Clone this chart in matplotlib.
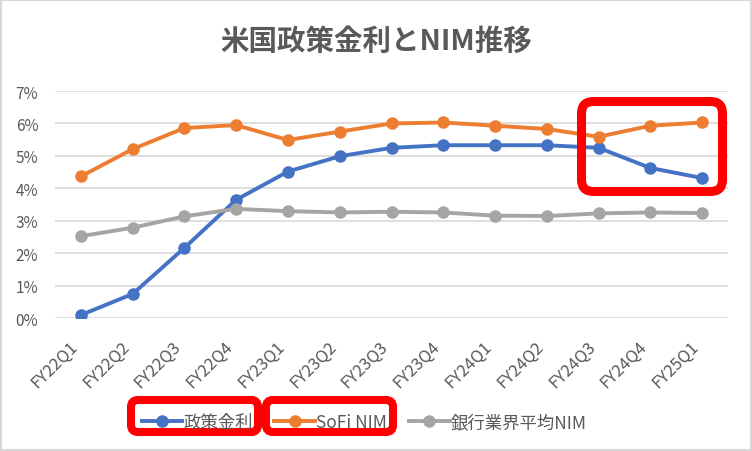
import matplotlib
matplotlib.use("Agg")
import matplotlib.pyplot as plt
from matplotlib.patches import FancyBboxPatch, Rectangle
from matplotlib.ticker import PercentFormatter

plt.rcParams['font.family'] = ['Noto Sans CJK JP', 'DejaVu Sans']

quarters = ["FY22Q1", "FY22Q2", "FY22Q3", "FY22Q4", "FY23Q1", "FY23Q2", "FY23Q3",
            "FY23Q4", "FY24Q1", "FY24Q2", "FY24Q3", "FY24Q4", "FY25Q1"]
policy_rate = [0.10, 0.75, 2.17, 3.65, 4.52, 4.99, 5.25, 5.33, 5.33, 5.33, 5.25, 4.63, 4.32]
sofi_nim = [4.37, 5.21, 5.86, 5.95, 5.49, 5.75, 6.00, 6.03, 5.93, 5.83, 5.59, 5.93, 6.03]
bank_avg_nim = [2.53, 2.79, 3.14, 3.37, 3.30, 3.26, 3.28, 3.26, 3.16, 3.15, 3.23, 3.26, 3.24]

W, H = 752, 452
gray_text = '#595959'

fig = plt.figure(figsize=(W / 100, H / 100), dpi=100)
ax = fig.add_axes([55 / W, 1 - 319.3 / H, (728 - 55) / W, (319.3 - 92) / H])

x = list(range(len(quarters)))
ax.plot(x, policy_rate, color='#4472C4', marker='o', linewidth=2.8, markersize=8, label='政策金利')
ax.plot(x, sofi_nim, color='#ED7D31', marker='o', linewidth=2.8, markersize=8, label='SoFi NIM')
ax.plot(x, bank_avg_nim, color='#A5A5A5', marker='o', linewidth=2.8, markersize=8, label='銀行業界平均NIM')

ax.set_ylim(0, 7)
ax.set_yticks(range(0, 8))
ax.yaxis.set_major_formatter(PercentFormatter(decimals=0))
ax.set_xlim(-0.5, len(quarters) - 0.5)
ax.set_xticks(x)
ax.set_xticklabels(quarters, rotation=45, ha='right')
ax.tick_params(axis='both', length=0, colors=gray_text, labelsize=11)
ax.tick_params(axis='x', pad=14, labelsize=12)
ax.tick_params(axis='y', pad=12)
ax.grid(axis='y', color='#d9d9d9', linewidth=1.2)
ax.set_axisbelow(True)
for s in ax.spines.values():
    s.set_visible(False)

fig.text(0.5, 1 - 42 / H, '米国政策金利とNIM推移', ha='center', va='center',
         fontsize=20.5, fontweight='bold', color=gray_text)

fig.legend(loc='center', bbox_to_anchor=(364 / W, 1 - 423 / H), ncol=3, frameon=False,
           fontsize=12.5, handlelength=2.35, handletextpad=0.05, columnspacing=1.25,
           labelcolor=gray_text)

# red highlight boxes (pixel positions)
def red_box(x0, y0, x1, y1, lw, r):
    fig.patches.append(FancyBboxPatch((x0 / W, 1 - y1 / H), (x1 - x0) / W, (y1 - y0) / H,
                                      boxstyle=f'round,pad=0,rounding_size={r / W}',
                                      mutation_aspect=W / H, transform=fig.transFigure,
                                      fill=False, edgecolor='#FF0000', linewidth=lw, zorder=5))

red_box(581.5, 102.5, 722.5, 192.5, 6.5, 12)
red_box(131, 401, 258, 433, 5.8, 7)
red_box(266, 401, 393, 433, 5.8, 7)

fig.patches.append(Rectangle((0, 0), 1, 1, transform=fig.transFigure, fill=False,
                             edgecolor='#d9d9d9', linewidth=3))

fig.savefig('out.png', dpi=100)
